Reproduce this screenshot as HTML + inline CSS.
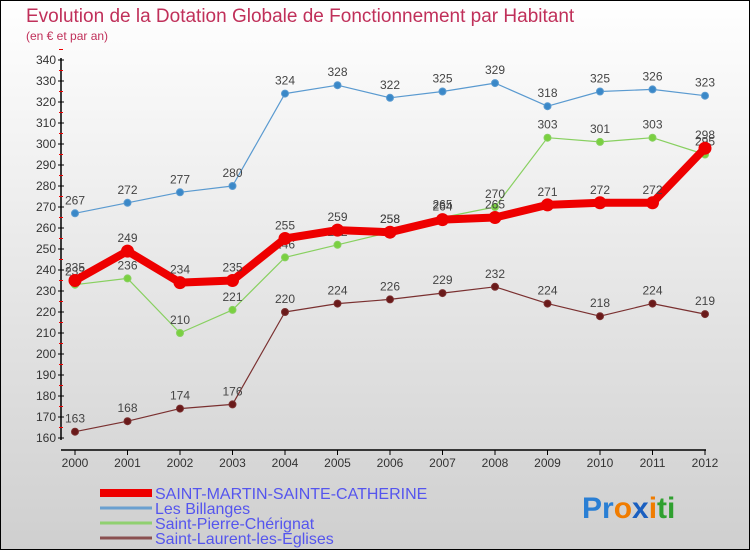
<!DOCTYPE html>
<html><head><meta charset="utf-8"><style>
body{margin:0;width:750px;height:550px;overflow:hidden;font-family:"Liberation Sans",sans-serif}
</style></head><body>
<svg id="c" width="750" height="550" xmlns="http://www.w3.org/2000/svg">
<defs><linearGradient id="bg" x1="0" y1="0" x2="0" y2="1"><stop offset="0" stop-color="#ffffff"/><stop offset="1" stop-color="#cfcfcf"/></linearGradient></defs>
<rect x="0.5" y="0.5" width="749" height="549" fill="url(#bg)" stroke="#000"/>
<text x="26" y="22" font-size="19" fill="#c0305a">Evolution de la Dotation Globale de Fonctionnement par Habitant</text>
<text x="26" y="40" font-size="12" fill="#c0305a">(en € et par an)</text>
<g id="axes"></g><g id="series"></g><g id="legend"></g>
<text x="582" y="518" font-size="30" font-weight="bold"><tspan fill="#2a7fd4">Pr</tspan><tspan fill="#f07c00">o</tspan><tspan fill="#1a5fc0">x</tspan><tspan fill="#f07c00">i</tspan><tspan fill="#30a030">ti</tspan></text>
</svg>
<script>
const years=[2000,2001,2002,2003,2004,2005,2006,2007,2008,2009,2010,2011,2012];
const yTicks=[160,170,180,190,200,210,220,230,240,250,260,270,280,290,300,310,320,330,340];
const main=[235,249,234,235,255,259,258,264,265,271,272,272,298];
const billanges=[267,272,277,280,324,328,322,325,329,318,325,326,323];
const pierre=[233,236,210,221,246,252,258,265,270,303,301,303,295];
const laurent=[163,168,174,176,220,224,226,229,232,224,218,224,219];
const NS="http://www.w3.org/2000/svg";
const x=i=>75+i*52.5, y=v=>438-(v-160)*(378/180);
function mk(t,a,p){const e=document.createElementNS(NS,t);for(const k in a)e.setAttribute(k,a[k]);p.appendChild(e);return e;}
const ax=document.getElementById('axes');
let l=mk('line',{x1:61,y1:58,x2:61,y2:440,stroke:'#000','stroke-width':1.5},ax);


l=mk('line',{x1:61,y1:450,x2:706,y2:450,stroke:'#000','stroke-width':1.5},ax);


yTicks.forEach(v=>{
 mk('line',{x1:58,x2:64,y1:y(v),y2:y(v),stroke:'#000'},ax);
 mk('line',{x1:59,x2:63,y1:y(v+5),y2:y(v+5),stroke:'#e00'},ax);
 const t=mk('text',{x:56,y:y(v)+4,'font-size':12,'text-anchor':'end',fill:'#333'},ax);t.textContent=v;
 
 
});
years.forEach((yr,i)=>{
 mk('line',{x1:x(i),x2:x(i),y1:450,y2:455,stroke:'#000'},ax);
 const t=mk('text',{x:x(i),y:467,'font-size':12,'text-anchor':'middle',fill:'#333'},ax);t.textContent=yr;
 
 
});
const sg=document.getElementById('series');
function series(d,col,w,r,name,dot){
 const g=mk('g',{},sg);
 
 
 mk('polyline',{points:d.map((v,i)=>x(i)+','+y(v)).join(' '),fill:'none',stroke:col,'stroke-width':w,'stroke-linejoin':'round'},g);
 d.forEach((v,i)=>{
  const c=mk('circle',{cx:x(i),cy:y(v),r:r,fill:dot,stroke:col,'stroke-width':1},g);
  
  
  const t=mk('text',{x:x(i),y:y(v)-9,'font-size':12,'text-anchor':'middle',fill:'#444'},g);t.textContent=v;
  
  
 });
}
series(laurent,'#7a3030',1.2,3.5,'saint-laurent-line','#6a1a1a');
series(pierre,'#88d060',1.2,3.5,'saint-pierre-line','#7ad040');
series(billanges,'#5a9ad0',1.2,3.5,'billanges-line','#3a88c8');
series(main,'#ee0000',8,6,'saint-martin-line','#ee0000');
const lg=document.getElementById('legend');
const items=[['SAINT-MARTIN-SAINTE-CATHERINE','#ee0000',8],['Les Billanges','#6aa0d0',3],['Saint-Pierre-Chérignat','#90d070',3],['Saint-Laurent-les-Eglises','#8a5050',3]];
items.forEach((it,i)=>{
 const g=mk('g',{},lg);
 
 
 const yy=493+i*15;
 mk('line',{x1:100,x2:152,y1:yy,y2:yy,stroke:it[1],'stroke-width':it[2]},g);
 const t=mk('text',{x:155,y:yy+6,'font-size':16,fill:'#5555ee'},g);t.textContent=it[0];
});
</script>
</body></html>
